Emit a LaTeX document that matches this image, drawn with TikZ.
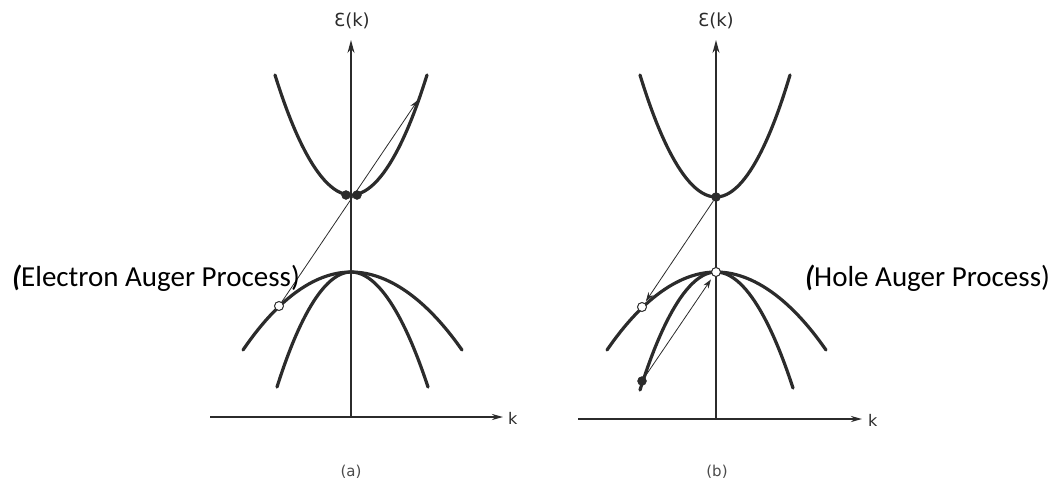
\documentclass[tikz,border=0pt]{standalone}
\usepackage{fontspec}
\setmainfont{Carlito}
\newfontfamily\axfont{DejaVu Sans}
\usetikzlibrary{arrows.meta}
\definecolor{ink}{HTML}{2B2B2B}
\tikzset{
  band/.style={draw=ink, line width=3.2pt, line cap=round},
  kaxis/.style={draw=ink, line width=2.2pt, -{Stealth[length=11pt,width=6pt]}},
  eaxis/.style={draw=ink, line width=1.2pt, -{Stealth[length=13pt,width=7pt]}},
  trans/.style={draw=ink, line width=0.8pt, -{Stealth[length=9pt,width=6pt]}},
  hole/.style={circle, draw=ink, fill=white, line width=1pt, inner sep=0pt, minimum size=9pt},
  elec/.style={circle, draw=ink, fill=ink, inner sep=0pt, minimum size=9pt},
  axlabel/.style={font=\axfont\fontsize{18}{20}\selectfont, text=ink, inner sep=0pt},
  klabel/.style={font=\axfont\fontsize{16}{18}\selectfont, text=ink, inner sep=0pt},
  sublabel/.style={font=\axfont\fontsize{15}{17}\selectfont, text=ink!85, inner sep=0pt},
  proc/.style={font=\fontsize{29}{32}\selectfont, inner sep=0pt, anchor=base west}
}
\begin{document}
\begin{tikzpicture}[x=1pt,y=-1pt]
\useasboundingbox (0,0) rectangle (1052,491);

% ---------- panel (a) ----------
\coordinate (ka0) at (210,417);
\coordinate (ka1) at (503,417);
\coordinate (ea0) at (351,417);
\coordinate (ea1) at (351,40);
\draw[kaxis] (ka0) -- (ka1);
\draw[eaxis] (ea0) -- (ea1);
\node[axlabel] (eal) at (352,21) {Ɛ(k)};
\node[klabel, anchor=west] (kal) at (508,418) {k};

\draw[band] (275,75) parabola bend (351,195) (427,75);
\draw[band] (243,350) parabola bend (351,272) (462,350);
\draw[band] (277,387) parabola bend (351,272) (428,387);

\node[elec] (ea) at (346,195) {};
\node[elec] (eb) at (357,195) {};
\node[hole] (ha) at (279,306) {};
\coordinate (ta) at (418,100);
\draw[trans] (ha) -- (ta);

\node[sublabel] (la) at (351,472) {(a)};

% ---------- panel (b) ----------
\coordinate (kb0) at (578,419);
\coordinate (kb1) at (862,419);
\coordinate (eb0) at (716,419);
\coordinate (eb1) at (716,40);
\draw[kaxis] (kb0) -- (kb1);
\draw[eaxis] (eb0) -- (eb1);
\node[axlabel] (ebl) at (716,21) {Ɛ(k)};
\node[klabel, anchor=west] (kbl) at (868,420) {k};

\draw[band] (640,75) parabola bend (716,197) (790,75);
\draw[band] (607,350) parabola bend (716,272) (826,350);
\draw[band] (640,390) parabola bend (716,272) (793,388);

\node[elec] (ec) at (716,197) {};
\node[hole] (hb) at (716,272) {};
\node[hole] (hc) at (642,307) {};
\node[elec] (ed) at (642,381) {};
\draw[trans, shorten >=2pt] (ec) -- (hc);
\draw[trans, shorten >=4pt] (ed) -- (hb);

\node[sublabel] (lb) at (717,472) {(b)};

% ---------- process labels ----------
\node[proc] (pe) at (12,286) {{\bfseries\itshape (}Electron Auger Process)};
\node[proc] (ph) at (805,286) {{\bfseries\itshape (}Hole Auger Process)};
\end{tikzpicture}
\end{document}
